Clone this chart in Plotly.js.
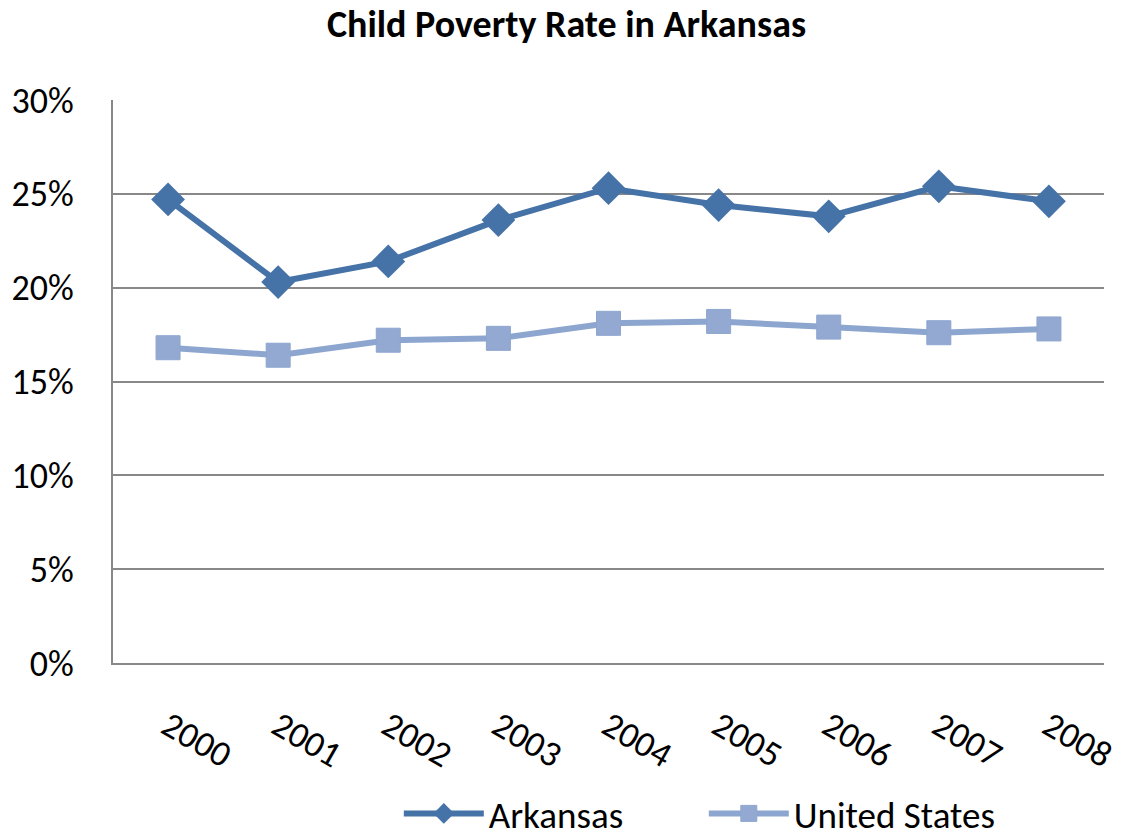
<!DOCTYPE html>
<html>
<head>
<meta charset="utf-8">
<script src="https://cdn.plot.ly/plotly-3.0.1.min.js"></script>
<style>html,body{margin:0;padding:0;background:#fff;}#chart{width:1133px;height:839px;}</style>
</head>
<body>
<div id="chart"></div>
<script>
const years = ["2000","2001","2002","2003","2004","2005","2006","2007","2008"];
const arkansas = [0.247, 0.203, 0.214, 0.236, 0.253, 0.244, 0.238, 0.254, 0.246];
const unitedStates = [0.168, 0.164, 0.172, 0.173, 0.181, 0.182, 0.179, 0.176, 0.178];
const tickVals = [0, 0.05, 0.10, 0.15, 0.20, 0.25, 0.30];
const tickText = ["0%","5%","10%","15%","20%","25%","30%"];

const font = "Carlito, Calibri, 'Open Sans', 'Noto Sans', sans-serif";
const traces = [
  {x: years, y: arkansas, name: "Arkansas", type: "scatter", mode: "lines+markers",
   line: {color: "#4572A7", width: 6}, marker: {symbol: "diamond", size: 26, color: "#4572A7"}},
  {x: years, y: unitedStates, name: "United States", type: "scatter", mode: "lines+markers",
   line: {color: "#8DA6CF", width: 6}, marker: {symbol: "square", size: 24, color: "#93A9D1", line: {color: "#8DA6CF", width: 1}}}
];
const layout = {
  width: 1133, height: 839,
  margin: {l: 113, r: 29, t: 100, b: 176, autoexpand: false},
  paper_bgcolor: "#fff", plot_bgcolor: "#fff",
  font: {family: font, size: 36, color: "#000"},
  title: {text: "<b>Child Poverty Rate in Arkansas</b>", x: 0.5, xanchor: "center", y: 0.972, yanchor: "middle",
          font: {family: font, size: 38, color: "#000"}},
  xaxis: {type: "category", range: [-0.5, 8.5], tickangle: 30, showgrid: false, zeroline: false, automargin: false,
          showline: true, linecolor: "#888", linewidth: 2, ticks: "", ticklabelstandoff: 26,
          tickfont: {family: font, size: 36}},
  yaxis: {range: [0, 0.30], tickvals: tickVals, ticktext: tickText, showgrid: true, gridcolor: "#888", gridwidth: 2,
          zeroline: false, showline: true, linecolor: "#888", linewidth: 2, ticks: "", ticklabelstandoff: 30, automargin: false,
          tickfont: {family: font, size: 36}},
  showlegend: true,
  legend: {orientation: "h", x: 0.352, xanchor: "left", xref: "container", yref: "container", y: 0.03, yanchor: "middle",
           itemwidth: 80, entrywidth: 210, font: {family: font, size: 37}}
};
Plotly.newPlot("chart", traces, layout, {displayModeBar: false});
</script>
</body>
</html>
